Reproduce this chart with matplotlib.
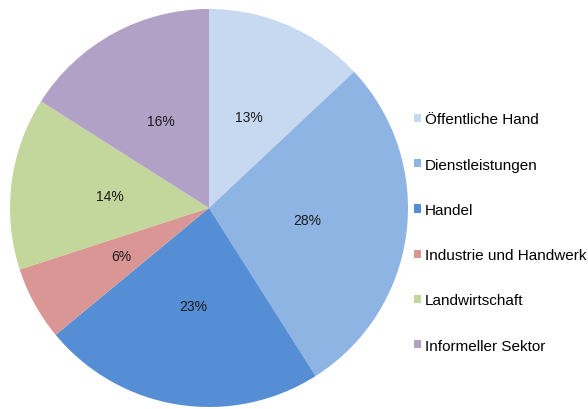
import matplotlib.pyplot as plt

plt.rcParams['font.family'] = ['Liberation Sans', 'DejaVu Sans']

# sector shares in percent
sectors = ['Öffentliche Hand', 'Dienstleistungen', 'Handel',
           'Industrie und Handwerk', 'Landwirtschaft', 'Informeller Sektor']
shares = [13, 28, 23, 6, 14, 16]
colors = ['#c6d9f0', '#8eb4e3', '#558ed5', '#d99694', '#c3d69b', '#b2a1c7']

W, H = 588, 410
fig = plt.figure(figsize=(W / 100, H / 100), dpi=100)

cx, cy, r = 209, 209, 199
ax = fig.add_axes([(cx - r) / W, (H - cy - r) / H, 2 * r / W, 2 * r / H])
wedges, texts, autotexts = ax.pie(
    shares, colors=colors, startangle=90, counterclock=False,
    autopct='%1.0f%%', pctdistance=0.5,
    wedgeprops=dict(edgecolor='none'),
    textprops=dict(fontsize=10, color='#1a1a1a'))
ax.set_xlim(-1, 1)
ax.set_ylim(-1, 1)
ax.set_aspect('equal')

fig.legend(wedges, sectors, loc='center left',
           bbox_to_anchor=(414 / W, 1 - 233.5 / H),
           frameon=False, fontsize=11, handlelength=0.45, handleheight=0.45,
           handletextpad=0.25, labelspacing=2.05, borderpad=0, borderaxespad=0)

fig.savefig('out.png', dpi=100)
